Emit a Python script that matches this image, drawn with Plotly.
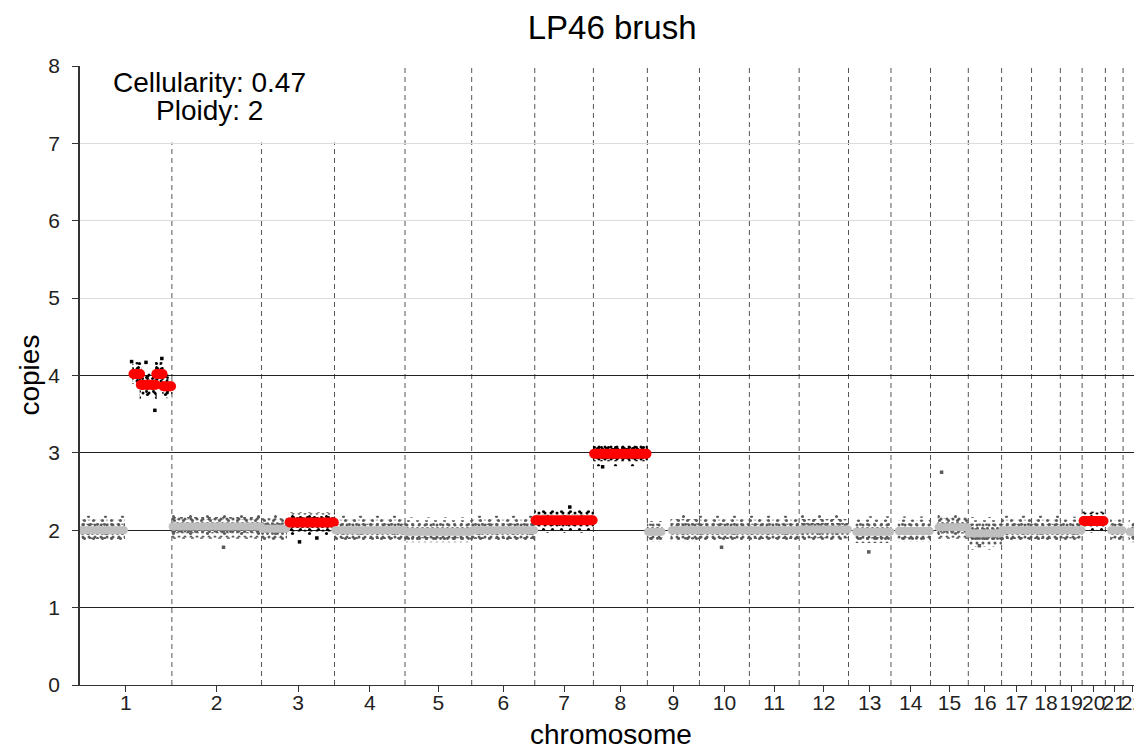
import plotly.graph_objects as go

# hg19 chromosome lengths, Mb
chrom_names = [str(i) for i in range(1, 23)]
chrom_len = [249.25, 243.2, 198.0, 191.15, 180.9, 171.1, 159.1, 146.4, 141.2, 135.5, 135.0,
             133.85, 115.2, 107.3, 102.5, 90.35, 81.2, 78.1, 59.1, 63.0, 48.1, 51.3]

# copy-number segments: chromosome, start (Mb), end (Mb), copies, altered?
seg_chrom = ["1", "1", "1", "1", "1", "2", "3", "3", "4", "5", "6", "7", "8", "9", "9", "10",
             "11", "12", "13", "14", "15", "16", "17", "18", "19", "20", "21", "22"]
seg_start = [2, 145, 165, 207, 226, 2, 2, 76, 2, 2, 2, 2, 2, 2, 66, 2,
             2, 2, 21, 21, 22, 2, 2, 2, 2, 4, 16, 18]
seg_end = [119, 163, 205, 224, 247, 241, 66, 196, 189, 179, 169, 157, 144, 38, 139, 133,
           133, 132, 113, 105, 100, 88, 79, 76, 57, 58, 46, 49]
seg_copies = [2.0, 4.02, 3.88, 4.02, 3.86, 2.05, 2.02, 2.10, 2.0, 1.98, 2.0, 2.13, 2.99, 1.98, 2.0, 2.0,
              2.0, 2.01, 1.98, 1.99, 2.04, 1.96, 2.0, 2.0, 2.0, 2.12, 2.0, 1.98]
seg_altered = [False, True, True, True, True, False, False, True, False, False, False, True, True, False, False, False,
               False, False, False, False, False, False, False, False, False, True, False, False]
# half-width of the bin scatter around each segment (copies)
seg_spread = [0.15, 0.17, 0.17, 0.17, 0.17, 0.16, 0.15, 0.13, 0.15, 0.15, 0.15, 0.13, 0.13, 0.14, 0.16, 0.15,
              0.15, 0.15, 0.16, 0.15, 0.15, 0.17, 0.15, 0.15, 0.14, 0.12, 0.14, 0.15]

# stray bins away from the main cloud
out_chrom = ["1", "1", "1", "1", "2", "3", "3", "8", "13", "15", "10", "16", "7"]
out_pos = [203, 222, 179, 140, 140, 103, 150, 25, 55, 30, 60, 30, 95]
out_copies = [3.55, 4.22, 4.17, 4.18, 1.78, 1.85, 1.9, 2.82, 1.72, 2.75, 1.78, 1.8, 2.3]
out_altered = [True, True, True, True, False, True, True, True, False, False, False, False, True]

cellularity = 0.47
ploidy = 2

offsets = {}
acc = 0.0
for name, ln in zip(chrom_names, chrom_len):
    offsets[name] = acc
    acc += ln
genome_len = acc
mids = [offsets[n] + ln / 2 for n, ln in zip(chrom_names, chrom_len)]
bounds = [offsets[n] for n in chrom_names[1:]]

fig = go.Figure()

# scatter of bins, drawn as overlapping dotted bands (denser near the segment mean)
dot_layers = [(1.25, 17, 0.025), (1.0, 9, 0.09), (0.9, 6, 0.2), (0.75, 7, 0.14), (0.55, 5, 0.28)]
for alt in (False, True):
    idx = [i for i in range(len(seg_chrom)) if seg_altered[i] == alt]
    col = "black" if alt else "#5a5a5a"
    xs = [offsets[seg_chrom[i]] + (seg_start[i] + seg_end[i]) / 2 for i in idx]
    ws = [seg_end[i] - seg_start[i] + 6 for i in idx]
    for frac, size, sol in dot_layers:
        fig.add_trace(go.Bar(
            x=xs, width=ws,
            base=[seg_copies[i] - seg_spread[i] * frac for i in idx],
            y=[2 * seg_spread[i] * frac for i in idx],
            marker=dict(color="rgba(0,0,0,0)", line_width=0,
                        pattern=dict(shape=".", fgcolor=col, bgcolor="rgba(0,0,0,0)", fgopacity=1,
                                     size=size, solidity=sol, fillmode="overlay")),
            hoverinfo="skip", showlegend=False))

for alt in (False, True):
    idx = [i for i in range(len(out_chrom)) if out_altered[i] == alt]
    fig.add_trace(go.Scatter(
        x=[offsets[out_chrom[i]] + out_pos[i] for i in idx],
        y=[out_copies[i] for i in idx],
        mode="markers", marker=dict(symbol="square", size=3.5, color="black" if alt else "#5a5a5a"),
        hoverinfo="skip", showlegend=False))

# segment means
for i in range(len(seg_chrom)):
    col = "#ff0000" if seg_altered[i] else "#bebebe"
    w = 10 if seg_altered[i] else 8
    fig.add_trace(go.Scatter(
        x=[offsets[seg_chrom[i]] + seg_start[i], offsets[seg_chrom[i]] + seg_end[i]],
        y=[seg_copies[i], seg_copies[i]],
        mode="lines+markers", line=dict(color=col, width=w),
        marker=dict(size=w, color=col), hoverinfo="skip", showlegend=False))

# dummy trace so the overlay axis (dark integer copy lines) is drawn
fig.add_trace(go.Scatter(x=[None], y=[None], yaxis="y2", showlegend=False, hoverinfo="skip"))

# chromosome boundaries
for b in bounds:
    fig.add_shape(type="line", x0=b, x1=b, y0=0, y1=8, layer="below",
                  line=dict(color="#555555", width=1, dash="5px,4px"))
fig.add_shape(type="rect", x0=0, x1=780, y0=7.01, y1=8, layer="below",
              fillcolor="white", line_width=0)

fig.add_annotation(x=350, y=7.79, xref="x", yref="y", showarrow=False,
                   text=f"Cellularity: {cellularity}", font=dict(size=28, color="black"))
fig.add_annotation(x=350, y=7.43, xref="x", yref="y", showarrow=False,
                   text=f"Ploidy: {ploidy}", font=dict(size=28, color="black"))

# axis titles
fig.add_annotation(x=-0.048, y=0.5, xref="paper", yref="paper", showarrow=False,
                   xanchor="center", yanchor="middle",
                   text="copies", textangle=-90, font=dict(size=28, color="black"))
fig.add_annotation(x=0.5, y=-0.08, xref="paper", yref="paper", showarrow=False,
                   xanchor="center", yanchor="middle", text="chromosome", font=dict(size=28, color="black"))

fig.update_layout(
    title=dict(text="LP46 brush", x=0.529, xanchor="center", y=0.974, yanchor="middle",
               font=dict(size=33, color="black")),
    width=1142, height=749,
    margin=dict(l=72, r=6, t=58, b=72),
    paper_bgcolor="white", plot_bgcolor="white",
    font=dict(family="Arial, Liberation Sans, sans-serif", color="#333333"),
    barmode="overlay",
    yaxis2=dict(overlaying="y", range=[0, 8], tickvals=[1, 2, 3, 4], showgrid=True,
                gridcolor="#222222", gridwidth=1, showticklabels=False, ticks="",
                zeroline=False, showline=False),
)
fig.update_xaxes(range=[0, genome_len], tickvals=mids, ticktext=chrom_names, tickangle=0,
                 showgrid=False, zeroline=False, showline=True, linecolor="#333333", linewidth=1,
                 ticks="outside", ticklen=6, tickcolor="#333333", ticklabelstandoff=-7,
                 tickfont=dict(size=21, color="#222222"))
fig.update_yaxes(selector=dict(overlaying=None), range=[0, 8], tickvals=list(range(9)), showgrid=True,
                 gridcolor="#dcdcdc", zeroline=False, showline=True, linecolor="#333333", linewidth=1.5,
                 ticks="outside", ticklen=6, tickcolor="#333333", ticklabelstandoff=8,
                 tickfont=dict(size=21, color="#222222"))

fig.write_html("out.html")
